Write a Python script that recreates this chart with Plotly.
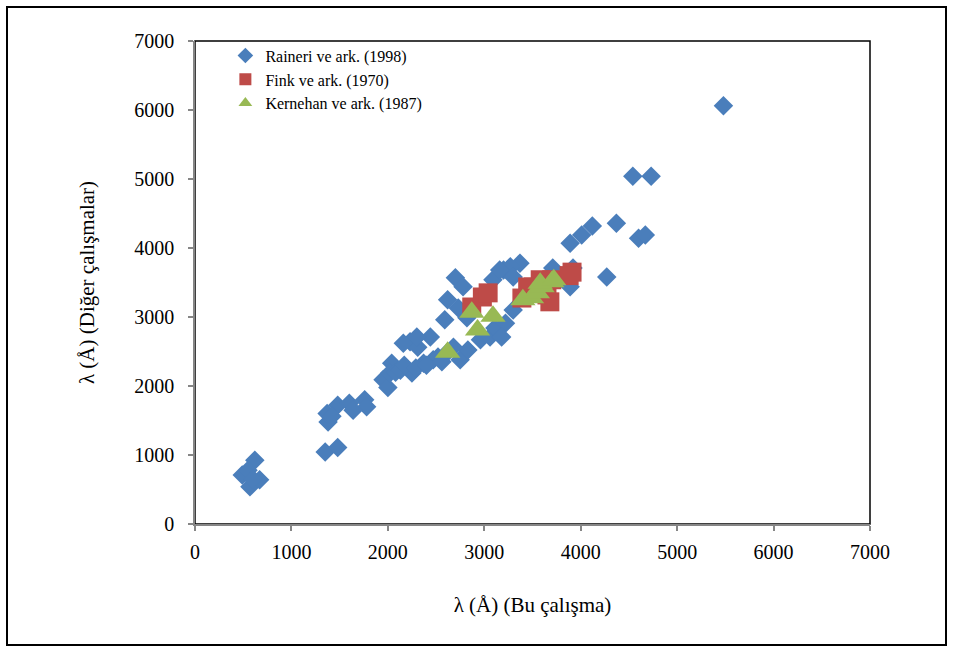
import plotly.graph_objects as go

# Raineri ve ark. (1998)
raineri_x = [620, 490, 570, 670, 550, 600,
             1350, 1480,
             1380, 1370, 1480, 1600, 1760, 1780, 1640, 1420,
             1950, 2000, 2040, 2020, 2080, 2130, 2250, 2230, 2310, 2370, 2470, 2610,
             2750, 2830, 2960, 3060, 3110, 2440, 2590, 2820, 2730, 2620, 2700, 2780,
             3090, 3200, 3240, 3370, 3270, 3300, 3160, 3300, 3220, 3180,
             3890, 3920, 3710, 3890, 4010, 4120, 4370, 4270, 4600, 4670, 4540, 4730, 5480,
             2170, 2290, 2400, 2520, 2560, 2680, 2160, 2300]
raineri_y = [925, 710, 540, 640, 780, 650,
             1045, 1110,
             1480, 1600, 1720, 1750, 1800, 1700, 1650, 1560,
             2090, 1980, 2330, 2190, 2200, 2230, 2190, 2640, 2560, 2330, 2380, 2480,
             2380, 2520, 2670, 2710, 2840, 2710, 2960, 2990, 3130, 3250, 3570, 3440,
             3540, 3680, 3680, 3780, 3730, 3580, 3680, 3100, 2910, 2710,
             3440, 3710, 3710, 4070, 4190, 4320, 4360, 3580, 4140, 4190, 5040, 5040, 6060,
             2300, 2260, 2300, 2420, 2350, 2560, 2620, 2710]

# Fink ve ark. (1970)
fink_x = [2870, 2980, 3040, 3390, 3450, 3510, 3580, 3650, 3680, 3700, 3910, 3880]
fink_y = [3145, 3290, 3350, 3275, 3435, 3435, 3540, 3320, 3220, 3540, 3650, 3600]

# Kernehan ve ark. (1987)
kern_x = [2620, 2870, 2930, 3090, 3400, 3490, 3550, 3600, 3700, 3580, 3720]
kern_y = [2490, 3070, 2810, 3010, 3250, 3280, 3350, 3440, 3510, 3490, 3540]

x_ticks = [0, 1000, 2000, 3000, 4000, 5000, 6000, 7000]
y_ticks = [0, 1000, 2000, 3000, 4000, 5000, 6000, 7000]

FONT = "Liberation Serif"

fig = go.Figure()
fig.add_trace(go.Scatter(x=raineri_x, y=raineri_y, mode="markers", name="Raineri ve ark. (1998)",
                         marker=dict(symbol="diamond", size=15, color="#4A7EBB")))
fig.add_trace(go.Scatter(x=fink_x, y=fink_y, mode="markers", name="Fink ve ark. (1970)",
                         marker=dict(symbol="square", size=19, color="#BE4B48")))
fig.add_trace(go.Scatter(x=kern_x, y=kern_y, mode="markers", name="Kernehan ve ark. (1987)",
                         marker=dict(symbol="triangle-up", size=22, color="#98B954")))

axis_common = dict(range=[0, 7000], showgrid=False, zeroline=False, showline=True,
                   linecolor="#868686", linewidth=1.5, ticks="outside", ticklen=5,
                   tickcolor="#868686", tickwidth=1.5, tickfont=dict(family=FONT, size=20, color="black"))

fig.update_layout(
    width=953, height=651,
    margin=dict(l=195, r=83, t=41, b=127),
    paper_bgcolor="white", plot_bgcolor="white",
    font=dict(family=FONT, color="black"),
    xaxis=dict(tickvals=x_ticks, ticklabelstandoff=4,
               title=dict(text="λ (Å) (Bu çalışma)", font=dict(family=FONT, size=21), standoff=36), **axis_common),
    yaxis=dict(tickvals=y_ticks, ticklabelstandoff=10,
               title=dict(text="λ (Å) (Diğer çalışmalar)", font=dict(family=FONT, size=21), standoff=34), **axis_common),
    legend=dict(x=0.045, y=1.005, xanchor="left", yanchor="top", bgcolor="rgba(0,0,0,0)",
                font=dict(family=FONT, size=16), itemsizing="constant", tracegroupgap=0),
    showlegend=True,
    shapes=[
        dict(type="rect", xref="paper", yref="paper", x0=0, x1=1, y0=0, y1=1,
             line=dict(color="black", width=1.5), layer="below"),
        dict(type="rect", xref="paper", yref="paper", x0=(7 - 195) / 675, x1=(946 - 195) / 675,
             y0=(524 - 645) / 483, y1=(524 - 7) / 483, line=dict(color="black", width=2)),
    ],
)

fig.write_html("out.html")
